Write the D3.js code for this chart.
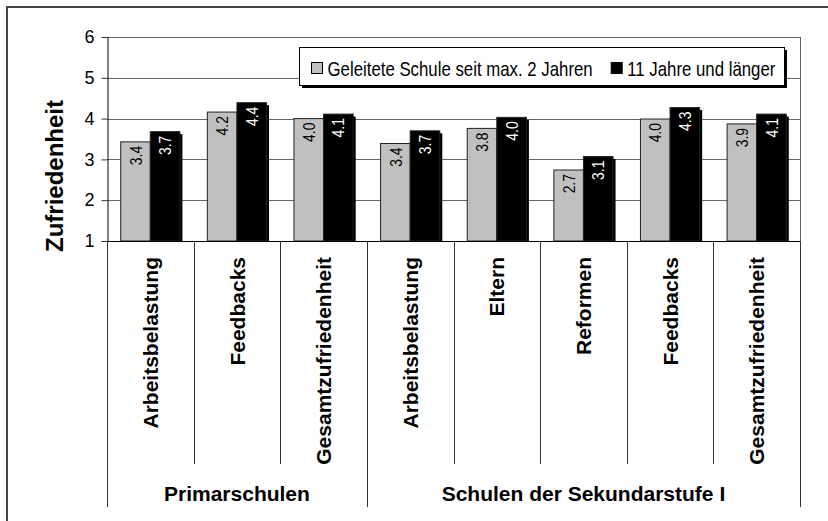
<!DOCTYPE html>
<html>
<head>
<meta charset="utf-8">
<script src="https://cdn.jsdelivr.net/npm/d3@7"></script>
<style>
  body { margin: 0; background: #fff; }
  text { font-family: "Liberation Sans", Arial, sans-serif; fill: #000; }
  .cat-label, .group-label, .y-title { font-weight: bold; }
</style>
</head>
<body>
<svg id="chart" width="828" height="521"></svg>
<script>
const categories = ['Arbeitsbelastung', 'Feedbacks', 'Gesamtzufriedenheit',
  'Arbeitsbelastung', 'Eltern', 'Reformen', 'Feedbacks', 'Gesamtzufriedenheit'];
const groups = ['Primarschulen', 'Schulen der Sekundarstufe I'];
const groupOf = [0, 0, 0, 1, 1, 1, 1, 1];
const seriesNames = ['Geleitete Schule seit max. 2 Jahren', '11 Jahre und länger'];
const newHeads = [3.43, 4.16, 4.0, 3.39, 3.76, 2.74, 3.99, 3.87];
const longHeads = [3.68, 4.39, 4.11, 3.70, 4.03, 3.07, 4.27, 4.11];
const yTicks = [1, 2, 3, 4, 5, 6];

const seriesColors = ['#c0c0c0', '#000000'];
const labelColors = ['#000', '#fff'];
const narrow = 0.82; // fake an Arial Narrow look

const svg = d3.select('#chart');
const plot = {left: 107, right: 800, top: 37, bottom: 241};

// outer frame (only top and left are visible in the crop)
svg.append('path')
  .attr('d', 'M7,521V7H828')
  .attr('fill', 'none')
  .attr('stroke', '#444')
  .attr('stroke-width', 2);

const x = d3.scaleBand()
  .domain(d3.range(categories.length))
  .range([plot.left, plot.right]);

const xs = d3.scaleBand()
  .domain([0, 1])
  .range([0, x.bandwidth()])
  .paddingOuter(0.463);

const y = d3.scaleLinear()
  .domain([1, 6])
  .range([plot.bottom, plot.top]);

// gridlines
svg.append('g')
  .selectAll('line')
  .data(yTicks.slice(1))
  .join('line')
    .attr('x1', plot.left)
    .attr('x2', plot.right)
    .attr('y1', d => Math.round(y(d)) + 0.5)
    .attr('y2', d => Math.round(y(d)) + 0.5)
    .attr('stroke', '#666');

// right border of plot
svg.append('line')
  .attr('x1', plot.right + 0.5).attr('x2', plot.right + 0.5)
  .attr('y1', plot.top).attr('y2', plot.bottom)
  .attr('stroke', '#666');

// y axis
const yAxis = svg.append('g')
  .attr('transform', `translate(${plot.left + 0.5},0)`)
  .call(d3.axisLeft(y).tickValues(yTicks).tickFormat(d3.format('d'))
    .tickSize(6).tickPadding(7).tickSizeOuter(0));
yAxis.select('.domain').attr('stroke', '#000');
yAxis.selectAll('.tick line').attr('stroke', '#333');
yAxis.selectAll('.tick text')
  .attr('font-size', 18)
  .attr('font-family', '"Liberation Sans", Arial, sans-serif');

svg.append('text')
  .attr('class', 'y-title')
  .attr('transform', `translate(63,176) rotate(-90)`)
  .attr('text-anchor', 'middle')
  .attr('font-size', 24)
  .text('Zufriedenheit');

// bars
const series = [newHeads, longHeads];
const shadowOff = 2.5;
series.forEach((vals, s) => {
  const g = svg.append('g');
  g.selectAll('rect.shadow')
    .data(vals)
    .join('rect')
      .attr('class', 'shadow')
      .attr('x', (d, i) => x(i) + xs(s) + shadowOff)
      .attr('y', d => y(d) + shadowOff)
      .attr('width', xs.bandwidth())
      .attr('height', d => y(1) - y(d) - shadowOff)
      .attr('fill', '#000');
});
series.forEach((vals, s) => {
  const g = svg.append('g');
  g.selectAll('rect.bar')
    .data(vals)
    .join('rect')
      .attr('class', 'bar')
      .attr('x', (d, i) => x(i) + xs(s))
      .attr('y', d => y(d))
      .attr('width', xs.bandwidth())
      .attr('height', d => y(1) - y(d))
      .attr('fill', seriesColors[s])
      .attr('stroke', '#222')
      .attr('stroke-width', 1);
  g.selectAll('text')
    .data(vals)
    .join('text')
      .attr('transform', (d, i) =>
        `translate(${x(i) + xs(s) + xs.bandwidth() / 2},${y(d) + 4}) rotate(-90) scale(${narrow},1)`)
      .attr('text-anchor', 'end')
      .attr('dy', '0.36em')
      .attr('font-size', 17)
      .style('fill', labelColors[s])
      .text(d => d.toFixed(1));
});

// x axis baseline
svg.append('line')
  .attr('x1', plot.left).attr('x2', plot.right + 1)
  .attr('y1', plot.bottom + 0.5).attr('y2', plot.bottom + 0.5)
  .attr('stroke', '#000');

// category separators, longer ones between groups
const boundaries = d3.range(categories.length + 1);
svg.append('g')
  .selectAll('line')
  .data(boundaries)
  .join('line')
    .attr('x1', i => Math.round(plot.left + i * x.step()) + 0.5)
    .attr('x2', i => Math.round(plot.left + i * x.step()) + 0.5)
    .attr('y1', plot.bottom)
    .attr('y2', i => (i === 0 || i === categories.length || groupOf[i] !== groupOf[i - 1]) ? 507 : 464)
    .attr('stroke', '#333');

svg.append('g')
  .selectAll('text')
  .data(categories)
  .join('text')
    .attr('class', 'cat-label')
    .attr('transform', (d, i) => `translate(${x(i) + x.bandwidth() / 2},257) rotate(-90)`)
    .attr('text-anchor', 'end')
    .attr('dy', '0.36em')
    .attr('font-size', 21)
    .text(d => d);

svg.append('g')
  .selectAll('text')
  .data(groups)
  .join('text')
    .attr('class', 'group-label')
    .attr('x', (d, gi) => {
      const idx = d3.range(categories.length).filter(i => groupOf[i] === gi);
      return (x(idx[0]) + x(idx[idx.length - 1]) + x.bandwidth()) / 2;
    })
    .attr('y', 501)
    .attr('text-anchor', 'middle')
    .attr('font-size', 21)
    .text(d => d);

// legend
const legend = svg.append('g').attr('transform', 'translate(299,47)');
legend.append('rect')
  .attr('x', 3).attr('y', 3)
  .attr('width', 485).attr('height', 38)
  .attr('fill', '#000');
legend.append('rect')
  .attr('x', 0.5).attr('y', 0.5)
  .attr('width', 485).attr('height', 38)
  .attr('fill', '#fff')
  .attr('stroke', '#000');

let lx = 12;
seriesNames.forEach((name, s) => {
  legend.append('rect')
    .attr('x', lx + 0.5).attr('y', 15.5)
    .attr('width', 11).attr('height', 11)
    .attr('fill', seriesColors[s])
    .attr('stroke', '#000');
  const t = legend.append('text')
    .attr('transform', `translate(${lx + 16.5},29) scale(${narrow},1)`)
    .attr('font-size', 20.5)
    .text(name);
  lx += 16.5 + t.node().getComputedTextLength() * narrow + 18;
});
</script>
</body>
</html>
